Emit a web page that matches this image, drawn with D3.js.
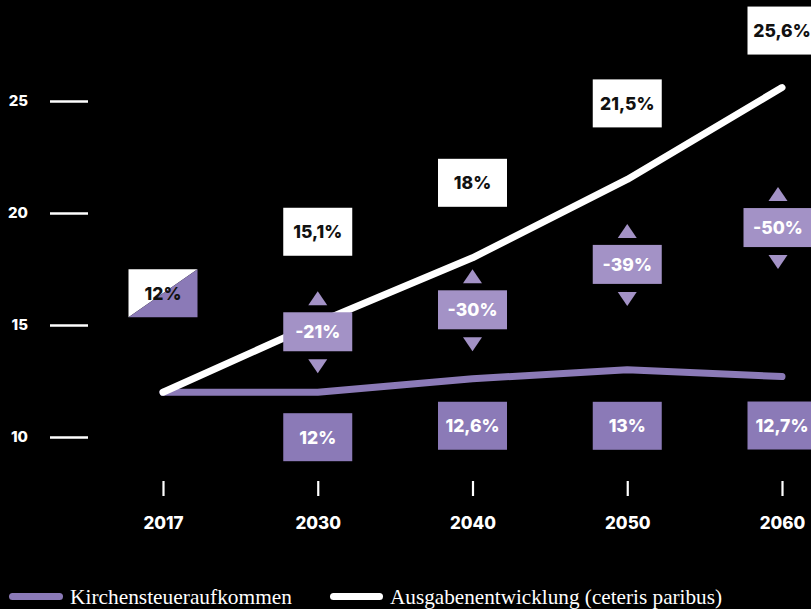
<!DOCTYPE html>
<html>
<head>
<meta charset="utf-8">
<script src="https://cdn.jsdelivr.net/npm/d3@7"></script>
<style>
  html, body { margin: 0; padding: 0; background: #000; }
  svg { display: block; }
</style>
</head>
<body>
<script>
// --- data ---
const years = ['2017', '2030', '2040', '2050', '2060'];
const kirchensteuer = [12, 12, 12.6, 13, 12.7];      // purple line
const ausgaben = [12, 15.1, 18, 21.5, 25.6];         // white line
const kirchLabels = ['12%', '12%', '12,6%', '13%', '12,7%'];
const ausgLabels = ['12%', '15,1%', '18%', '21,5%', '25,6%'];
const diffLabels = [null, '-21%', '-30%', '-39%', '-50%'];
const yTicks = [10, 15, 20, 25];
const legendNames = ['Kirchensteueraufkommen', 'Ausgabenentwicklung (ceteris paribus)'];

// label placement (pixels, relative to the line points)
const whiteLift = [99, 91, 75, 76, 57];
const purpleDrop = [0, 45, 47, 56, 49];
const diffDrop = [0, 9, 52, 85, 140];
const diffShift = [0, 0, 0, 0, -4];

const width = 811, height = 609;
const purple = '#8b7ab7', lightPurple = '#a392c6';
const boxW = 69, boxH = 48, diffH = 39;
const boldFont = 'Inter, "Open Sans", sans-serif';

const svg = d3.select('body').append('svg')
  .attr('width', width)
  .attr('height', height)
  .style('background', '#000');

// Scales
const x = d3.scalePoint().domain(years).range([163, 782]);
const y = d3.scaleLinear().domain([10, 25]).range([437, 101]);

// y axis
const yAxis = svg.append('g')
  .attr('transform', 'translate(88,0)')
  .call(d3.axisLeft(y).tickValues(yTicks).tickSize(38).tickPadding(22));
yAxis.select('.domain').remove();
yAxis.selectAll('line').attr('stroke', '#fff').attr('stroke-width', 2.6);
yAxis.selectAll('text')
  .attr('fill', '#fff')
  .style('font-family', boldFont)
  .style('font-weight', 800)
  .style('font-size', '15px');

// x axis
const xAxis = svg.append('g')
  .attr('transform', 'translate(0,481)')
  .call(d3.axisBottom(x).tickSize(15).tickPadding(21));
xAxis.select('.domain').remove();
xAxis.selectAll('line').attr('stroke', '#fff').attr('stroke-width', 2.2);
xAxis.selectAll('text')
  .attr('fill', '#fff')
  .style('font-family', boldFont)
  .style('font-weight', 800)
  .style('font-size', '17px');

// Lines
const line = d3.line()
  .x((d, i) => x(years[i]))
  .y(d => y(d));

svg.append('path')
  .datum(kirchensteuer)
  .attr('d', line)
  .attr('fill', 'none')
  .attr('stroke', purple)
  .attr('stroke-width', 7)
  .attr('stroke-linecap', 'round')
  .attr('stroke-linejoin', 'round');

svg.append('path')
  .datum(ausgaben)
  .attr('d', line)
  .attr('fill', 'none')
  .attr('stroke', '#fff')
  .attr('stroke-width', 7)
  .attr('stroke-linecap', 'round')
  .attr('stroke-linejoin', 'round');

function boxText(g, cx, cy, txt, color) {
  g.append('text')
    .attr('x', cx)
    .attr('y', cy)
    .attr('dy', '0.36em')
    .attr('text-anchor', 'middle')
    .attr('fill', color)
    .style('font-family', boldFont)
    .style('font-weight', 800)
    .style('font-size', '17.5px')
    .text(txt);
}

const labels = svg.append('g');

// 2017 split box
{
  const cx = x(years[0]);
  const cy = y(ausgaben[0]) - whiteLift[0];
  const x0 = cx - boxW / 2, y0 = cy - boxH / 2;
  labels.append('path')
    .attr('d', `M${x0},${y0}H${x0 + boxW}L${x0},${y0 + boxH}Z`)
    .attr('fill', '#fff');
  labels.append('path')
    .attr('d', `M${x0 + boxW},${y0}V${y0 + boxH}H${x0}Z`)
    .attr('fill', purple);
  boxText(labels, cx, cy, ausgLabels[0], '#111');
}

years.forEach((yr, i) => {
  if (i === 0) return;
  const cx = x(yr);

  // white value box
  const wy = y(ausgaben[i]) - whiteLift[i];
  labels.append('rect')
    .attr('x', cx - boxW / 2).attr('y', wy - boxH / 2)
    .attr('width', boxW).attr('height', boxH)
    .attr('fill', '#fff');
  boxText(labels, cx, wy, ausgLabels[i], '#111');

  // purple value box
  const py = y(kirchensteuer[i]) + purpleDrop[i];
  labels.append('rect')
    .attr('x', cx - boxW / 2).attr('y', py - boxH / 2)
    .attr('width', boxW).attr('height', boxH)
    .attr('fill', purple);
  boxText(labels, cx, py, kirchLabels[i], '#fff');

  // difference box with arrows
  const dx = cx + diffShift[i];
  const dy = y(ausgaben[i]) + diffDrop[i];
  labels.append('rect')
    .attr('x', dx - boxW / 2).attr('y', dy - diffH / 2)
    .attr('width', boxW).attr('height', diffH)
    .attr('fill', lightPurple);
  boxText(labels, dx, dy, diffLabels[i], '#fff');

  const top = dy - diffH / 2 - 7, bot = dy + diffH / 2 + 8;
  labels.append('path')
    .attr('d', `M${dx},${top - 14}L${dx + 9.5},${top}L${dx - 9.5},${top}Z`)
    .attr('fill', lightPurple);
  labels.append('path')
    .attr('d', `M${dx - 9.5},${bot}L${dx + 9.5},${bot}L${dx},${bot + 14}Z`)
    .attr('fill', lightPurple);
});

// Legend
const legend = svg.append('g');
const legendItems = [
  { name: legendNames[0], color: purple, x0: 12.5, x1: 59.5, tx: 70, tw: 222 },
  { name: legendNames[1], color: '#fff', x0: 333.5, x1: 379.5, tx: 390, tw: 332 }
];
legendItems.forEach(d => {
  legend.append('line')
    .attr('x1', d.x0).attr('x2', d.x1)
    .attr('y1', 596.5).attr('y2', 596.5)
    .attr('stroke', d.color)
    .attr('stroke-width', 7)
    .attr('stroke-linecap', 'round');
  legend.append('text')
    .attr('x', d.tx)
    .attr('y', 604)
    .attr('fill', '#fff')
    .attr('textLength', d.tw)
    .attr('lengthAdjust', 'spacingAndGlyphs')
    .style('font-family', '"Liberation Serif", serif')
    .style('font-size', '21px')
    .text(d.name);
});
</script>
</body>
</html>
